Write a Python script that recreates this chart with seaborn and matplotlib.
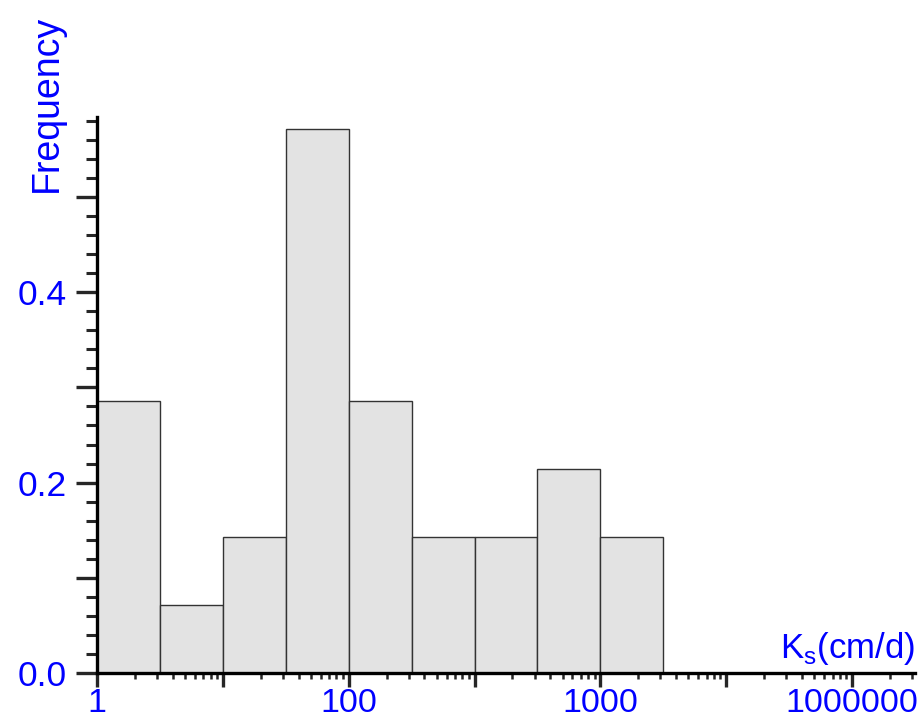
import numpy as np
import matplotlib
matplotlib.use("Agg")
import matplotlib.pyplot as plt
from matplotlib.ticker import FixedLocator, FixedFormatter, LogLocator, NullFormatter, MultipleLocator
import seaborn as sns

# dados
bin_edges_log = [0.0, 0.5, 1.0, 1.5, 2.0, 2.5, 3.0, 3.5, 4.0, 4.5]   # log10(Ks)
ks_centros = [10 ** 0.25, 10 ** 0.75, 10 ** 1.25, 10 ** 1.75, 10 ** 2.25,
              10 ** 2.75, 10 ** 3.25, 10 ** 3.75, 10 ** 4.25]
frequencia = [0.2857, 0.0714, 0.1429, 0.5714, 0.2857, 0.1429, 0.1429, 0.2143, 0.1429]

xtick_pos = [1, 100, 10000, 1000000]
xtick_labels = ["1", "100", "1000", "1000000"]
ytick_pos = [0.0, 0.2, 0.4]
ytick_labels = ["0.0", "0.2", "0.4"]

AZUL = "#0000ff"

sns.set_style("ticks")
plt.rcParams["font.family"] = ["Liberation Sans", "DejaVu Sans"]

fig = plt.figure(figsize=(9.2, 7.15), dpi=100)
ax = fig.add_axes([0.1054, 0.0587, 0.8892, 0.7777])

sns.histplot(x=ks_centros, weights=frequencia, bins=bin_edges_log, log_scale=True,
             stat="count", color="#e3e3e3", edgecolor="#333333", linewidth=1.0,
             alpha=1.0, ax=ax)

ax.set_xlim(1, 10 ** 6.5)
ax.set_ylim(0, 0.584)

# eixo x: décadas como ticks maiores, só algumas com rótulo
decadas = [10.0 ** k for k in range(0, 7)]
ax.xaxis.set_major_locator(FixedLocator(decadas))
rotulos = [xtick_labels[xtick_pos.index(d)] if d in xtick_pos else "" for d in decadas]
ax.xaxis.set_major_formatter(FixedFormatter(rotulos))
ax.xaxis.set_minor_locator(LogLocator(base=10, subs=np.arange(2, 10), numticks=20))
ax.xaxis.set_minor_formatter(NullFormatter())

# eixo y
ax.yaxis.set_major_locator(MultipleLocator(0.1))
ax.yaxis.set_minor_locator(MultipleLocator(0.02))
ax.yaxis.set_major_formatter(plt.FuncFormatter(
    lambda v, p: ytick_labels[ytick_pos.index(round(v, 1))] if round(v, 1) in ytick_pos else ""))

for s in ["top", "right"]:
    ax.spines[s].set_visible(False)
for s in ["left", "bottom"]:
    ax.spines[s].set_linewidth(2.4)
    ax.spines[s].set_color("black")

ax.tick_params(axis="y", which="major", length=15, width=2.4, direction="out",
               labelsize=25.5, labelcolor=AZUL, pad=7)
ax.tick_params(axis="y", which="minor", length=8, width=2.2, direction="out")
ax.tick_params(axis="x", which="major", length=10, width=2.4, direction="out",
               labelsize=24.5, labelcolor=AZUL, pad=1)
ax.tick_params(axis="x", which="minor", length=4, width=1.8, direction="out")

ax.set_xlabel("")
ax.set_ylabel("")

ax.text(1.0, 0.027, r"K$_\mathregular{s}$(cm/d)", transform=ax.transAxes,
        ha="right", va="baseline", fontsize=25, color=AZUL)
fig.text(47 / 920, 1 - 15 / 715, "Frequency", rotation=90, ha="center", va="top",
         fontsize=27, color=AZUL)

fig.savefig("out.png", dpi=100)
